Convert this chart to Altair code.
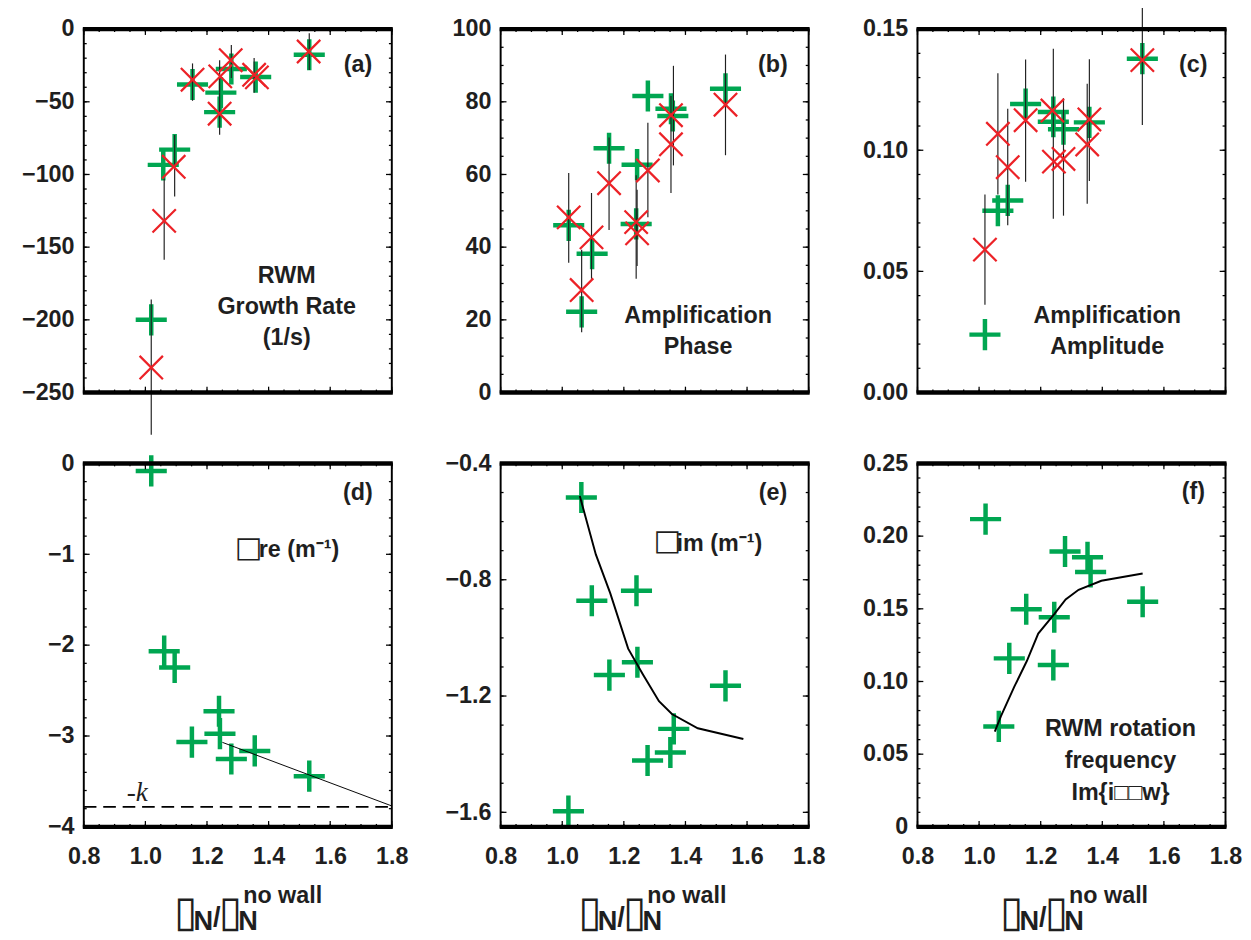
import altair as alt
import pandas as pd
import numpy as np

# ---------------- data ----------------
a_green_x = [1.019, 1.058, 1.095, 1.153, 1.245, 1.241, 1.279, 1.358, 1.532]
a_green_y = [-200, -93.4, -82.9, -38.1, -43.7, -57.1, -27.4, -33.0, -17.6]
a_red_x = [1.019, 1.061, 1.092, 1.153, 1.243, 1.241, 1.277, 1.353, 1.362, 1.530]
a_red_y = [-232.8, -131.9, -94.7, -34.8, -32.5, -58.2, -21.4, -31.4, -33.2, -15.4]
a_err_x = [1.019, 1.061, 1.095, 1.153, 1.241, 1.241, 1.279, 1.353, 1.532]
a_err_lo = [-279, -158.6, -115.2, -49.3, -43.6, -72.7, -33.6, -43.7, -28.1]
a_err_hi = [-186, -103, -72.9, -23.6, -21.4, -43.6, -10.9, -19.8, -2.9]

b_green_x = [1.021, 1.063, 1.097, 1.152, 1.240, 1.243, 1.278, 1.353, 1.359, 1.530]
b_green_y = [46.0, 22.2, 38.2, 67.2, 46.4, 62.7, 81.6, 78.1, 76.1, 83.6]
b_red_x = [1.021, 1.063, 1.095, 1.152, 1.240, 1.243, 1.278, 1.353, 1.353, 1.530]
b_red_y = [48.2, 28.2, 42.7, 57.6, 46.9, 43.8, 61.1, 76.3, 68.3, 79.2]
b_err_x = [1.021, 1.063, 1.095, 1.152, 1.240, 1.243, 1.278, 1.353, 1.361, 1.530]
b_err_lo = [35.7, 16.6, 31.3, 44.7, 31.3, 34.8, 48.2, 54.9, 62.5, 65.3]
b_err_hi = [60.4, 39.3, 54.9, 70.2, 59.8, 55.8, 74.2, 81.6, 89.9, 93.0]

c_green_x = [1.019, 1.061, 1.093, 1.151, 1.241, 1.241, 1.274, 1.358, 1.530]
c_green_y = [0.0239, 0.0750, 0.0793, 0.1191, 0.1158, 0.1118, 0.1087, 0.1115, 0.1378]
c_red_x = [1.019, 1.061, 1.093, 1.151, 1.238, 1.243, 1.274, 1.358, 1.351, 1.530]
c_red_y = [0.0590, 0.1068, 0.0930, 0.1124, 0.1164, 0.0953, 0.0964, 0.1127, 0.1024, 0.1372]
c_err_x = [1.019, 1.061, 1.093, 1.151, 1.241, 1.274, 1.358, 1.351, 1.530]
c_err_lo = [0.0362, 0.0817, 0.0690, 0.0870, 0.0717, 0.0730, 0.0873, 0.0779, 0.1104]
c_err_hi = [0.0817, 0.1318, 0.1171, 0.1375, 0.1419, 0.1215, 0.1376, 0.1274, 0.1636]

d_green_x = [1.019, 1.061, 1.095, 1.151, 1.239, 1.242, 1.279, 1.355, 1.532]
d_green_y = [-0.082, -2.066, -2.245, -3.067, -2.728, -2.974, -3.253, -3.164, -3.442]
d_line_x = [1.25, 1.8]
d_line_y = [-3.07, -3.77]
d_minus_k = [-3.78]

e_green_x = [1.020, 1.062, 1.096, 1.153, 1.241, 1.244, 1.277, 1.351, 1.362, 1.530]
e_green_y = [-1.596, -0.517, -0.872, -1.128, -0.838, -1.084, -1.422, -1.394, -1.313, -1.165]
e_line_x = [1.057, 1.109, 1.156, 1.214, 1.262, 1.314, 1.356, 1.440, 1.588]
e_line_y = [-0.512, -0.713, -0.847, -1.037, -1.126, -1.218, -1.262, -1.311, -1.348]

f_green_x = [1.021, 1.064, 1.098, 1.153, 1.241, 1.244, 1.279, 1.352, 1.362, 1.531]
f_green_y = [0.2117, 0.0691, 0.1159, 0.1497, 0.1114, 0.1442, 0.1894, 0.1854, 0.1753, 0.1549]
f_line_x = [1.051, 1.071, 1.114, 1.155, 1.192, 1.244, 1.281, 1.323, 1.397, 1.531]
f_line_y = [0.0655, 0.0762, 0.0963, 0.1141, 0.1330, 0.1464, 0.1564, 0.1631, 0.1693, 0.1743]

x_tick_labels = [0.8, 1.0, 1.2, 1.4, 1.6, 1.8]

# ---------------- styling ----------------
W, H = 317, 374
GREEN = "#00A651"
RED = "#EC2227"
INK = "#1f1f1f"
FONT = "Liberation Sans"
BOX = "\u25AF"   # tall box, as shown for the missing glyphs
SQ = "\u25A1"    # square box
PLUS = "M-1,0L1,0M0,-1L0,1"
XMARK = "M-1,-1L1,1M-1,1L1,-1"

X_DOMAIN = [0.8, 1.8]
X_MINOR = list(np.round(np.arange(0.8, 1.8001, 0.05), 3))


def one_row(**kw):
    return pd.DataFrame({k: [v] for k, v in kw.items()})


def panel(ydom, ymajor, yminor, yfmt, green, red=None, err=None, line=None,
          line_width=2.0, texts=(), extra=None, bottom=False, title_x=90, yexpr=None):
    xs = alt.Scale(domain=X_DOMAIN, nice=False, zero=False)
    ys = alt.Scale(domain=ydom, nice=False, zero=False)
    yaxis = alt.Axis(values=ymajor, format=yfmt, labelFont=FONT, labelFontSize=24,
                     labelFontWeight="bold", labelColor=INK, ticks=False, tickSize=0,
                     domain=False, grid=False, labelPadding=10, title=None,
                     minExtent=66, maxExtent=66, labelFlush=False, labelOverlap=False,
                     **({"labelExpr": yexpr} if yexpr else {}))
    if bottom:
        xaxis = alt.Axis(values=x_tick_labels, format=".1f", labelFont=FONT, labelFontSize=24,
                         labelFontWeight="bold", labelColor=INK, ticks=False, tickSize=0,
                         domain=False, grid=False, labelPadding=19, title=None,
                         labelFlush=False, labelOverlap=False)
    else:
        xaxis = None

    def X(f):
        return alt.X(f, scale=xs, axis=xaxis)

    def Y(f):
        return alt.Y(f, scale=ys, axis=yaxis)

    layers = []
    gdf = pd.DataFrame({"x": green[0], "y": green[1]})
    layers.append(
        alt.Chart(gdf).mark_point(shape=PLUS, size=1024, filled=False, stroke=GREEN,
                                  strokeWidth=4.6, opacity=1, strokeCap="butt")
        .encode(x=X("x:Q"), y=Y("y:Q"))
    )
    if line is not None:
        ldf = pd.DataFrame({"x": line[0], "y": line[1]})
        layers.append(
            alt.Chart(ldf).mark_line(color="black", strokeWidth=line_width)
            .encode(x=X("x:Q"), y=Y("y:Q"))
        )
    if err is not None:
        edf = pd.DataFrame({"x": err[0], "lo": err[1], "hi": err[2]})
        layers.append(
            alt.Chart(edf).mark_rule(color="#202020", strokeWidth=1.2)
            .encode(x=X("x:Q"), y=Y("lo:Q"), y2="hi:Q")
        )
    if red is not None:
        rdf = pd.DataFrame({"x": red[0], "y": red[1]})
        layers.append(
            alt.Chart(rdf).mark_point(shape=XMARK, size=576, filled=False, stroke=RED,
                                      strokeWidth=2.3, opacity=1)
            .encode(x=X("x:Q"), y=Y("y:Q"))
        )
    if extra is not None:
        layers.extend(extra(X, Y))

    for t in texts:
        tdf = pd.DataFrame({"x": [t["x"]], "y": [t["y"]], "t": [t["text"]]})
        layers.append(
            alt.Chart(tdf).mark_text(font=t.get("font", FONT), fontSize=t.get("size", 24),
                                     fontWeight=t.get("weight", "bold"),
                                     fontStyle=t.get("style", "normal"),
                                     align=t.get("align", "center"),
                                     baseline=t.get("baseline", "middle"),
                                     lineHeight=t.get("lh", 32), lineBreak="\n", color=INK)
            .encode(x=X("x:Q"), y=Y("y:Q"), text="t:N")
        )

    # inward ticks on all four sides
    for vals, L in [(yminor, 3), (ymajor, 6)]:
        tdf = pd.DataFrame({"v": vals})
        base = alt.Chart(tdf).mark_rule(color="black", strokeWidth=1.3)
        layers.append(base.encode(y=Y("v:Q"), x=alt.value(0), x2=alt.value(L)))
        layers.append(base.encode(y=Y("v:Q"), x=alt.value(W), x2=alt.value(W - L)))
    for vals, L in [(X_MINOR, 3), (x_tick_labels, 6)]:
        tdf = pd.DataFrame({"v": vals})
        base = alt.Chart(tdf).mark_rule(color="black", strokeWidth=1.3)
        layers.append(base.encode(x=X("v:Q"), y=alt.value(H), y2=alt.value(H - L)))
        layers.append(base.encode(x=X("v:Q"), y=alt.value(0), y2=alt.value(L)))

    # thick top / bottom frame lines
    fdf = one_row(k=1)
    for yy in (0, H):
        layers.append(alt.Chart(fdf).mark_rule(color="black", strokeWidth=4.5)
                      .encode(x=alt.value(-1), x2=alt.value(W + 1), y=alt.value(yy)))

    if bottom:
        base_y = H + 103
        pieces = [
            (BOX, title_x + 7, "DejaVu Sans", 44, "normal", "center", base_y - 1),
            ("N", title_x + 15, FONT, 28, "bold", "left", base_y + 3),
            ("/", title_x + 35, FONT, 28, "bold", "left", base_y - 1),
            (BOX, title_x + 53, "DejaVu Sans", 44, "normal", "center", base_y - 1),
            ("N", title_x + 61, FONT, 28, "bold", "left", base_y + 3),
            ("no wall", title_x + 66, FONT, 24, "bold", "left", base_y - 25),
        ]
        for txt, px, fnt, fs, fw, al, py in pieces:
            layers.append(alt.Chart(one_row(t=txt))
                          .mark_text(font=fnt, fontSize=fs, fontWeight=fw, align=al,
                                     baseline="alphabetic", color=INK)
                          .encode(x=alt.value(px), y=alt.value(py), text="t:N"))

    return alt.layer(*layers).properties(width=W, height=H)


def d_extra(X, Y):
    kdf = pd.DataFrame({"y": d_minus_k})
    return [alt.Chart(kdf).mark_rule(color="black", strokeWidth=2, strokeDash=[13, 7])
            .encode(y=Y("y:Q"), x=alt.value(0), x2=alt.value(W))]


pa = panel([-250, 0], list(range(-250, 1, 50)), list(range(-250, 1, 10)), "d",
           (a_green_x, a_green_y), (a_red_x, a_red_y), (a_err_x, a_err_lo, a_err_hi),
           texts=[{"x": 1.690, "y": -24.7, "text": "(a)"},
                  {"x": 1.459, "y": -169.8, "text": "RWM\nGrowth Rate\n(1/s)"}])
pb = panel([0, 100], list(range(0, 101, 20)), list(range(0, 101, 5)), "d",
           (b_green_x, b_green_y), (b_red_x, b_red_y), (b_err_x, b_err_lo, b_err_hi),
           texts=[{"x": 1.684, "y": 90.1, "text": "(b)"},
                  {"x": 1.441, "y": 21.1, "text": "Amplification\nPhase"}])
pc = panel([0, 0.15], [0, 0.05, 0.10, 0.15], list(np.round(np.arange(0, 0.1501, 0.01), 3)), ".2f",
           (c_green_x, c_green_y), (c_red_x, c_red_y), (c_err_x, c_err_lo, c_err_hi),
           texts=[{"x": 1.695, "y": 0.1352, "text": "(c)"},
                  {"x": 1.416, "y": 0.03168, "text": "Amplification\nAmplitude"}])
pd_ = panel([-4, 0], [-4, -3, -2, -1, 0], list(np.round(np.arange(-4, 0.001, 0.2), 2)), "d",
            (d_green_x, d_green_y), line=(d_line_x, d_line_y), line_width=1.0,
            extra=d_extra, bottom=True, title_x=98,
            texts=[{"x": 1.690, "y": -0.322, "text": "(d)"},
                   {"x": 1.336, "y": -0.93, "text": SQ, "font": "DejaVu Sans", "weight": "normal", "size": 30},
                   {"x": 1.368, "y": -1.03, "text": "re (m\u207B\u00B9)", "align": "left", "baseline": "alphabetic"},
                   {"x": 0.9735, "y": -3.625, "text": "-k", "font": "Liberation Serif",
                    "weight": "normal", "style": "italic", "size": 28}])
pe = panel([-1.65, -0.4], [-1.6, -1.2, -0.8, -0.4], list(np.round(np.arange(-1.6, -0.399, 0.1), 2)), ".1f",
           (e_green_x, e_green_y), line=(e_line_x, e_line_y), bottom=True, title_x=85,
           texts=[{"x": 1.684, "y": -0.5006, "text": "(e)"},
                  {"x": 1.342, "y": -0.668, "text": SQ, "font": "DejaVu Sans", "weight": "normal", "size": 30},
                  {"x": 1.371, "y": -0.7017, "text": "im (m\u207B\u00B9)", "align": "left", "baseline": "alphabetic"}])
pf = panel([0, 0.25], [0, 0.05, 0.10, 0.15, 0.20, 0.25], list(np.round(np.arange(0, 0.2501, 0.01), 3)), ".2f",
           (f_green_x, f_green_y), line=(f_line_x, f_line_y), bottom=True, title_x=90,
           yexpr="datum.value == 0 ? '0' : format(datum.value, '.2f')",
           texts=[{"x": 1.696, "y": 0.2299, "text": "(f)"},
                  {"x": 1.459, "y": 0.0675, "text": "RWM rotation\nfrequency\nIm{i" + SQ + SQ + "w}", "lh": 33}])

row1 = alt.hconcat(pa, pb, pc, spacing=40).resolve_scale(x="independent", y="independent")
row2 = alt.hconcat(pd_, pe, pf, spacing=27).resolve_scale(x="independent", y="independent")

chart = (
    alt.vconcat(row1, row2, spacing=9)
    .resolve_scale(x="independent", y="independent")
    .properties(padding={"top": -28, "left": 11, "right": 0, "bottom": 0}, background="white")
    .configure_view(stroke="black", strokeWidth=2)
)

chart.save("out.html", embed_options={"renderer": "svg", "actions": False})
